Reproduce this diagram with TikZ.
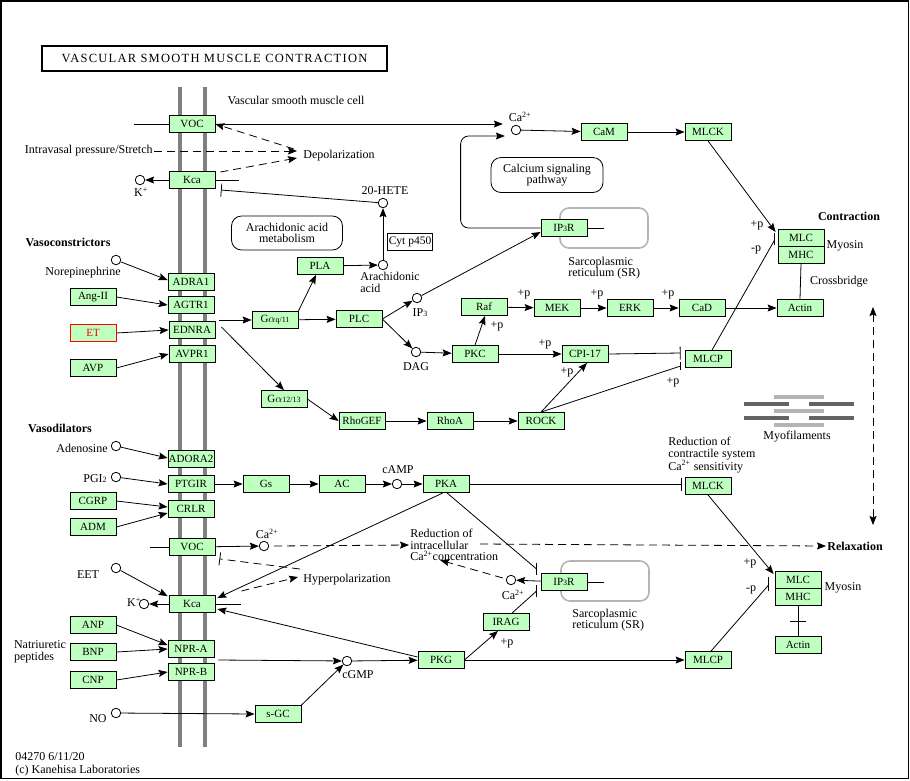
\documentclass[tikz,border=0pt]{standalone}
\usepackage{fontspec}
\setmainfont{Liberation Serif}
\usetikzlibrary{arrows.meta,calc,positioning}
\definecolor{keggreen}{HTML}{BFFFBF}
\definecolor{membgray}{HTML}{808080}
\definecolor{srgray}{HTML}{B4B4B4}
\definecolor{fildark}{HTML}{646464}
\begin{document}
\begin{tikzpicture}[x=1pt, y=-1pt, line width=0.8pt, font=\fontsize{12}{11.5}\selectfont,
		gene/.style={draw, fill=keggreen, minimum width=46pt, minimum height=17pt, inner sep=0pt, font=\fontsize{11}{11}\selectfont},
		cpd/.style={circle, draw, fill=white, minimum size=9.5pt, inner sep=0pt},
		txt/.style={inner sep=1pt, align=left},
		bold/.style={txt, font=\fontsize{12}{11.5}\selectfont\bfseries},
		pathway/.style={draw, rounded corners=10pt, minimum width=111pt, minimum height=34pt, align=center, inner sep=0pt},
		srbox/.style={draw=srgray, line width=1.6pt, rounded corners=9pt, minimum width=88pt, minimum height=40pt},
		act/.style={-{Stealth[length=9pt, width=7pt, inset=1.5pt]}},
		inh/.style={-{Bar[width=13pt]}},
		dact/.style={act, dash pattern=on 8pt off 5pt},
		dinh/.style={inh, dash pattern=on 8pt off 5pt},
		memb/.style={membgray, line width=4pt}]
	\useasboundingbox (0,0) rectangle (910,780);
	\draw[line width=1.5pt] (0.75,0.75) rectangle (908.5,778.5);
	
	\node[draw, line width=2pt, minimum width=345pt, minimum height=25pt, inner sep=0pt,
		font=\fontsize{12.5}{13}\selectfont\addfontfeature{LetterSpace=10}] (title) at (214.5,58.5) {VASCULAR SMOOTH MUSCLE CONTRACTION};
	
	% cell membrane
	\draw[memb] (180,87) -- (180,747);
	\draw[memb] (205,87) -- (205,747);
	
	% sarcoplasmic reticulum
	\node[srbox] (SRa) at (604,228) {};
	\node[srbox] (SRb) at (605,581) {};
	\node[txt, anchor=west] (tSRa) at (567,268) {Sarcoplasmic\\reticulum (SR)};
	\node[txt, anchor=west] (tSRb) at (571,620) {Sarcoplasmic\\reticulum (SR)};
	
	% membrane proteins
	\node[gene] (VOCa) at (192,124) {VOC};
	\node[gene] (KCAa) at (192,180) {Kca};
	\node[gene] (ADRA) at (191,282) {ADRA1};
	\node[gene] (AGTR) at (191,305) {AGTR1};
	\node[gene] (EDNRA) at (192,330) {EDNRA};
	\node[gene] (AVPR) at (192,354) {AVPR1};
	\node[gene] (ADORA) at (191,459) {ADORA2};
	\node[gene] (PTGIR) at (191,484) {PTGIR};
	\node[gene] (CRLR) at (191,509) {CRLR};
	\node[gene] (VOCb) at (192,547) {VOC};
	\node[gene] (KCAb) at (192,604) {Kca};
	\node[gene] (NPRA) at (191,649) {NPR-A};
	\node[gene] (NPRB) at (191,672) {NPR-B};
	
	% ligands
	\node[gene] (ANGII) at (93,297) {Ang-II};
	\node[gene, draw=red, text=red] (ET) at (93,333) {ET};
	\node[gene] (AVP) at (93,368) {AVP};
	\node[gene] (CGRP) at (93,501) {CGRP};
	\node[gene] (ADM) at (93,527) {ADM};
	\node[gene] (ANP) at (93,625) {ANP};
	\node[gene] (BNP) at (93,652) {BNP};
	\node[gene] (CNP) at (93,680) {CNP};
	
	% compounds
	\node[cpd] (NE) at (116,260) {};
	\node[cpd] (ADEN) at (116,446) {};
	\node[cpd] (PGI) at (116,477) {};
	\node[cpd] (EET) at (116,568) {};
	\node[cpd] (NO) at (116,713) {};
	\node[cpd] (Ka) at (140,180) {};
	\node[cpd] (Kb) at (144,604) {};
	\node[cpd] (CAa) at (516,130) {};
	\node[cpd] (CAb) at (264,546) {};
	\node[cpd] (CAc) at (511,580) {};
	\node[cpd] (HETE) at (383,203) {};
	\node[cpd] (AA) at (383,265) {};
	\node[cpd] (IP3) at (417,298) {};
	\node[cpd] (DAG) at (416,352) {};
	\node[cpd] (CAMP) at (397,484) {};
	\node[cpd] (CGMP) at (347,661) {};
	
	\node[txt] (lNE) at (83,273) {Norepinephrine};
	\node[txt] (lADEN) at (82,448) {Adenosine};
	\node[txt] (lPGI) at (95,479) {PGI{\footnotesize 2}};
	\node[txt] (lEET) at (88,575) {EET};
	\node[txt] (lNO) at (98,719) {NO};
	\node[txt] (lKa) at (141,192) {K\textsuperscript{+}};
	\node[txt] (lKb) at (134,602) {K\textsuperscript{+}};
	\node[txt] (lCAa) at (520,117) {Ca\textsuperscript{2+}};
	\node[txt] (lCAb) at (267,534) {Ca\textsuperscript{2+}};
	\node[txt] (lCAc) at (513,595) {Ca\textsuperscript{2+}};
	\node[txt] (lHETE) at (385,191) {20-HETE};
	\node[txt, anchor=north west] (lAA) at (359,271) {Arachidonic\\acid};
	\node[txt] (lIP3) at (420,313) {IP{\footnotesize 3}};
	\node[txt] (lDAG) at (416,367) {DAG};
	\node[txt] (lCAMP) at (398,470) {cAMP};
	\node[txt] (lCGMP) at (358,675) {cGMP};
	
	% signalling proteins
	\node[gene] (PLA) at (320,266) {PLA};
	\node[gene] (GQ) at (275,320) {G$\alpha${\footnotesize q/11}};
	\node[gene] (PLC) at (359,319) {PLC};
	\node[gene] (G12) at (284,399) {G$\alpha${\footnotesize 12/13}};
	\node[gene] (RHOGEF) at (362,421) {RhoGEF};
	\node[gene] (RHOA) at (450,421) {RhoA};
	\node[gene] (ROCK) at (541,421) {ROCK};
	\node[gene] (RAF) at (484,307) {Raf};
	\node[gene] (MEK) at (557,308) {MEK};
	\node[gene] (ERK) at (630,308) {ERK};
	\node[gene] (CAD) at (702,308) {CaD};
	\node[gene] (ACTa) at (800,308) {Actin};
	\node[gene] (PKC) at (475,354) {PKC};
	\node[gene] (CPI) at (585,354) {CPI-17};
	\node[gene] (MLCPa) at (708,359) {MLCP};
	\node[gene] (IP3Ra) at (564,228) {IP{\footnotesize 3}R};
	\node[gene] (CAM) at (604,132) {CaM};
	\node[gene] (MLCKa) at (708,132) {MLCK};
	\node[gene] (MLCa) at (801,238) {MLC};
	\node[gene] (MHCa) at (801,255) {MHC};
	\node[gene] (GS) at (266,484) {Gs};
	\node[gene] (AC) at (342,484) {AC};
	\node[gene] (PKA) at (446,484) {PKA};
	\node[gene] (MLCKb) at (708,486) {MLCK};
	\node[gene] (IP3Rb) at (564,582) {IP{\footnotesize 3}R};
	\node[gene] (IRAG) at (506,622) {IRAG};
	\node[gene] (PKG) at (441,660) {PKG};
	\node[gene] (SGC) at (278,714) {s-GC};
	\node[gene] (MLCPb) at (708,660) {MLCP};
	\node[gene] (MLCb) at (798,580) {MLC};
	\node[gene] (MHCb) at (798,597) {MHC};
	\node[gene] (ACTb) at (798,645) {Actin};
	
	\node[draw, inner sep=1pt, minimum height=17pt, font=\fontsize{11.5}{11}\selectfont] (CYP) at (410,242) {Cyt p450};
	\node[pathway] (AAmet) at (287,233) {Arachidonic acid\\metabolism};
	\node[pathway, minimum width=112pt, minimum height=35pt] (CASIG) at (547,175) {Calcium signaling\\pathway};
	
	% texts
	\node[txt] (tVSMC) at (296,100) {Vascular smooth muscle cell};
	\node[txt, anchor=east] (tPRES) at (154,151) {Intravasal pressure/Stretch};
	\node[txt, anchor=west] (tDEP) at (302,156) {Depolarization};
	\node[txt, anchor=west] (tHYP) at (302,580) {Hyperpolarization};
	\node[txt, anchor=west] (tRED) at (409,545) {Reduction of\\intracellular\\Ca\textsuperscript{2+}concentration};
	\node[txt, anchor=west] (tREDc) at (667,455) {Reduction of\\contractile system\\Ca\textsuperscript{2+} sensitivity};
	\node[bold] (tVCON) at (68,242) {Vasoconstrictors};
	\node[bold] (tVDIL) at (60,428) {Vasodilators};
	\node[bold] (tCON) at (849,216) {Contraction};
	\node[bold, anchor=west] (tREL) at (826,546) {Relaxation};
	\node[txt] (tMYOa) at (845,246) {Myosin};
	\node[txt] (tMYOb) at (843,588) {Myosin};
	\node[txt] (tCROSS) at (839,282) {Crossbridge};
	\node[txt] (tMYOF) at (797,437) {Myofilaments};
	\node[txt] (tNAT) at (40,652) {Natriuretic\\peptides};
	\node[txt, anchor=north west, font=\fontsize{12}{13}\selectfont] (tFOOT) at (14,751) {04270 6/11/20\\(c) Kanehisa Laboratories};
	
	\foreach \x/\y [count=\i] in {524/294, 597/294, 668/294, 497/326, 545/344, 567/372, 673/382, 507/643, 757/225, 750/563}
		\node[txt] (plus\i) at (\x,\y) {+p};
	\node[txt] (minus1) at (756,250) {-p};
	\node[txt] (minus2) at (751,590) {-p};
	
	% myofilaments
	\foreach \y in {397,411,425}
		\draw[srgray, line width=3.5pt] (774,\y) -- (824,\y);
	\foreach \y in {404,418} {
		\draw[fildark, line width=4pt] (744,\y) -- (789,\y);
		\draw[fildark, line width=4pt] (809,\y) -- (854,\y);
	}
	
	% ligand binding
	\foreach \from/\to in {ANGII.east/AGTR.west, ET.east/EDNRA.west, AVP.east/AVPR.west, PGI/PTGIR.west, BNP.east/NPRA.west, CNP.east/NPRB.west, NO/SGC.west}
		\draw[act] (\from) -- (\to);
	\draw[act] (NE) -- ($(ADRA.west)+(0,-2)$);
	\draw[act] (ADEN) -- ($(ADORA.west)+(0,-1)$);
	\draw[act] (CGRP.east) -- ($(CRLR.west)+(0,-2)$);
	\draw[act] (ADM.east) -- ($(CRLR.west)+(0,4)$);
	\draw[act] (ANP.east) -- ($(NPRA.west)+(0,-4)$);
	\draw[act] (EET) -- ($(KCAb.north west)+(-1,1)$);
	
	% activation
	\foreach \from/\to in {PTGIR/GS, GS/AC, AC/CAMP, CAMP/PKA, RHOGEF/RHOA, RHOA/ROCK, RAF/MEK, MEK/ERK, ERK/CAD, CAD/ACTa, DAG/PKC, PKC/CPI, GQ/PLC, PLA/AA, AA/HETE, CAa/CAM, CAM/MLCKa, VOCb/CAb, KCAa/Ka, KCAb/Kb, IP3Rb/CAc, CGMP/PKG, PKG/MLCPb}
		\draw[act] (\from) -- (\to);
	\draw[act] (PLC.east) -- (IP3);
	\draw[act] (PLC.east) -- (DAG);
	\draw[act] (G12.east) -- (RHOGEF.west);
	\draw[act] (SGC.north east) -- (CGMP);
	\draw[act] (PKG.east) -- ($(IRAG.south)+(-8,0)$);
	\draw[act] (GQ.north east) -- ($(PLA.south)+(-4,0)$);
	\draw[act] ($(EDNRA.east)+(4,-10)$) -- (GQ.west);
	\draw[act] ($(EDNRA.east)+(6,-3)$) -- (G12.north);
	\draw[act] (PKC.north) -- ($(RAF.south)+(1,0)$);
	\draw[act] (ROCK.north) -- ($(CPI.south)+(2,0)$);
	\draw[act] (IP3) -- ($(IP3Ra.west)+(0,4)$);
	\draw[act] (MLCKa.south) -- ($(MLCa.west)+(-2,-6)$);
	\draw[act] (MLCKb.south) -- ($(MLCb.west)+(-1,-6)$);
	\draw[act] ($(PKA.south)+(-3,0)$) -- ($(KCAb.east)+(2,-6)$);
	\draw[act] ($(PKG.west)+(0,-3)$) -- ($(KCAb.east)+(2,5)$);
	\draw[act] ($(NPRA.east)+(4,11)$) -- (CGMP);
	\draw[act] (VOCa.east) -- ($(CAa.west)+(-8,-6)$);
	\draw[act, rounded corners=8pt] (IP3Ra.west) -- ++(-80,0) |- ($(CAa.west)+(-6,6)$);
	
	% channel lines
	\draw (VOCa.west) -- ++(-35,0);
	\draw (KCAa.east) -- ++(24,0);
	\draw (VOCb.west) -- ++(-19,0);
	\draw (KCAb.east) -- ++(26,0);
	\draw (IP3Ra.east) -- ++(17,0);
	\draw (IP3Rb.east) -- ++(17,0);
	\draw (MHCa.south) -- (ACTa.north);
	\draw (MHCb.south) -- (ACTb.north);
	\draw ($(MHCb.south)!0.5!(ACTb.north)+(-8,0)$) -- ++(16,0);
	
	% inhibition
	\draw[inh] (HETE) -- ($(KCAa.east)+(5.5,10)$);
	\draw[inh] (PKA.east) -- ($(MLCKb.west)+(-3,-2)$);
	\draw[inh] (CPI.east) -- ($(MLCPa.west)+(-4,-6)$);
	\draw (ROCK.north) -- ($(MLCPa.west)+(-4,7)$);
	\draw ($(MLCPa.west)+(-4,3)$) -- ($(MLCPa.west)+(-4,11)$);
	\draw ($(MLCPa.north)+(4,0)$) -- ($(MLCa.west)+(-3,2)$);
	\draw ($(MLCa.west)+(-3,-5)$) -- ($(MLCa.west)+(-3,7)$);
	\draw ($(MLCPb.north)+(3,0)$) -- ($(MLCb.west)+(-6,5)$);
	\draw ($(MLCb.west)+(-6,-3)$) -- ($(MLCb.west)+(-6,11)$);
	\draw ($(PKA.south)+(1,0)$) -- ($(IP3Rb.west)+(-4,-13)$);
	\draw ($(IP3Rb.west)+(-4,-19)$) -- ($(IP3Rb.west)+(-4,-7)$);
	\draw ($(IRAG.north)+(6,0)$) -- ($(IP3Rb.west)+(-4,9)$);
	\draw ($(IP3Rb.west)+(-4,3)$) -- ($(IP3Rb.west)+(-4,15)$);
	
	% indirect effects
	\draw[dact] (tPRES.east) -- ($(tDEP.west)+(-5,-5)$);
	\draw[dact] ($(KCAa.east)+(5,-8)$) -- ($(tDEP.west)+(-5,2)$);
	\draw[dact] ($(tDEP.west)+(-8,-7)$) -- (VOCa.east);
	\draw[dact] ($(CAb.east)+(5,0)$) -- (tRED.west);
	\draw[dact] ($(tRED.west)+(71,-1)$) -- (tREL.west);
	\draw[dact] ($(CAc.west)+(-3,-2)$) -- ($(tRED.south)+(-14,-2)$);
	\draw[dact] ($(KCAb.east)+(26,-13)$) -- ($(tHYP.west)+(-4,-3)$);
	\draw[dinh] ($(tHYP.west)+(-2,-11)$) -- ($(VOCb.south east)+(4,3)$);
	\coordinate (conTop) at (873,307);
	\coordinate (relBot) at (873,525);
	\draw[dact, {Stealth[length=9pt, width=7pt, inset=1.5pt]}-{Stealth[length=9pt, width=7pt, inset=1.5pt]}] (conTop) -- (relBot);
\end{tikzpicture}
\end{document}
